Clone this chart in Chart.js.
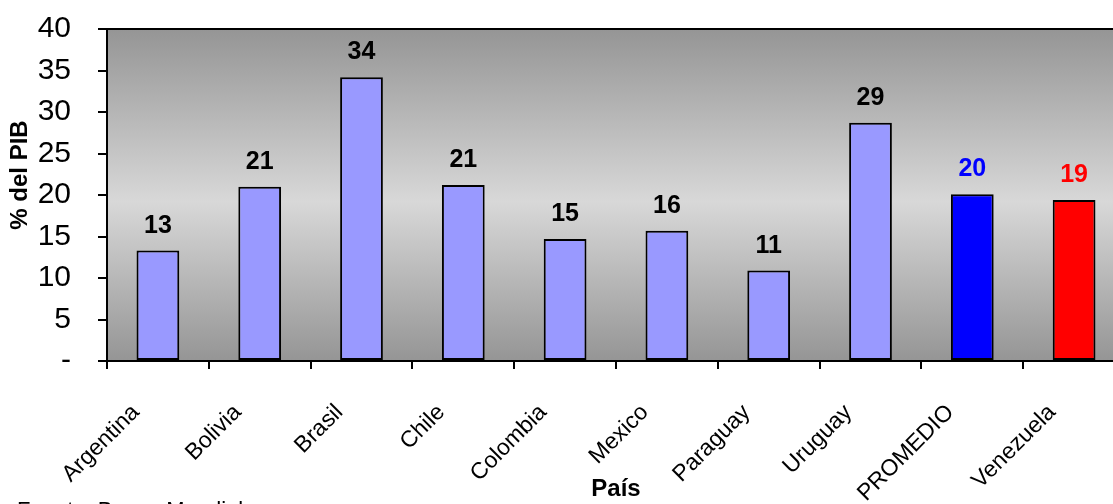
<!DOCTYPE html>
<html>
<head>
<meta charset="utf-8">
<script src="https://cdn.jsdelivr.net/npm/chart.js@4/dist/chart.umd.min.js"></script>
<style>
  html, body { margin: 0; padding: 0; background: #fff; overflow: hidden; }
  #wrap { width: 1126px; height: 504px; }
</style>
</head>
<body>
<div id="wrap"><canvas id="pib" width="1126" height="504"></canvas></div>
<script>
// paises y % del PIB
var paises = ["Argentina", "Bolivia", "Brasil", "Chile", "Colombia", "Mexico", "Paraguay", "Uruguay", "PROMEDIO", "Venezuela"];
var valores = [13.3, 21.0, 34.2, 21.2, 14.7, 15.7, 10.9, 28.7, 20.1, 19.4];
var coloresBarra = ["#9999ff", "#9999ff", "#9999ff", "#9999ff", "#9999ff", "#9999ff", "#9999ff", "#9999ff", "#0000ff", "#ff0000"];
var coloresEtiqueta = ["#000", "#000", "#000", "#000", "#000", "#000", "#000", "#000", "#0000ff", "#ff0000"];
var fuente = "Fuente: Banco Mundial";

var FAMILIA = "'Liberation Sans', Arial, sans-serif";

// fondo degradado del area de trazado + borde superior
var fondoPlot = {
  id: "fondoPlot",
  beforeDraw: function (chart) {
    var a = chart.chartArea, c = chart.ctx;
    var g = c.createLinearGradient(0, a.top, 0, a.bottom);
    g.addColorStop(0, "#959595");
    g.addColorStop(0.52, "#d8d8d8");
    g.addColorStop(1, "#959595");
    c.save();
    c.fillStyle = g;
    c.fillRect(a.left, a.top, a.right - a.left, a.bottom - a.top);
    c.restore();
  },
  afterDraw: function (chart) {
    var a = chart.chartArea, c = chart.ctx;
    c.save();
    c.strokeStyle = "#000";
    c.lineWidth = 2;
    c.beginPath();
    c.moveTo(a.left, a.top);
    c.lineTo(a.right, a.top);
    c.stroke();
    // nota de fuente al pie
    c.fillStyle = "#000";
    c.font = "22px " + FAMILIA;
    c.textAlign = "left";
    c.textBaseline = "alphabetic";
    c.fillText(fuente, 17, 517);
    c.restore();
  }
};

// valores encima de cada barra
var etiquetas = {
  id: "etiquetas",
  afterDatasetsDraw: function (chart) {
    var c = chart.ctx;
    var meta = chart.getDatasetMeta(0);
    c.save();
    c.font = "bold 25px " + FAMILIA;
    c.textAlign = "center";
    c.textBaseline = "alphabetic";
    meta.data.forEach(function (bar, i) {
      c.fillStyle = coloresEtiqueta[i];
      c.fillText(String(Math.round(valores[i])), bar.x, bar.y - 18);
    });
    c.restore();
  }
};

new Chart(document.getElementById("pib"), {
  type: "bar",
  data: {
    labels: paises,
    datasets: [{
      data: valores,
      backgroundColor: coloresBarra,
      borderColor: "#000",
      borderWidth: 2,
      borderSkipped: false,
      barPercentage: 0.42,
      categoryPercentage: 1.0
    }]
  },
  options: {
    responsive: false,
    devicePixelRatio: 1,
    animation: false,
    layout: { padding: { top: 29, right: 1, left: 0, bottom: 0 } },
    plugins: {
      legend: { display: false },
      tooltip: { enabled: false }
    },
    scales: {
      x: {
        offset: true,
        border: { display: true, color: "#000", width: 2 },
        grid: { offset: true, drawOnChartArea: false, drawTicks: true, tickLength: 8, color: "#000", lineWidth: 2 },
        ticks: {
          autoSkip: false,
          minRotation: 45,
          maxRotation: 45,
          padding: 30,
          labelOffset: -22,
          color: "#000",
          font: { family: FAMILIA, size: 23 }
        },
        title: {
          display: true,
          text: "País",
          color: "#000",
          font: { family: FAMILIA, size: 24, weight: "bold" },
          padding: { top: 0, bottom: 0 }
        },
        afterFit: function (s) {
          s.height = 143;
          s.paddingLeft = 0;
          s.paddingRight = 0;
        }
      },
      y: {
        min: 0,
        max: 40,
        border: { display: true, color: "#000", width: 2 },
        grid: { drawOnChartArea: false, drawTicks: true, tickLength: 9, color: "#000", lineWidth: 2 },
        ticks: {
          stepSize: 5,
          autoSkip: false,
          padding: 27,
          color: "#000",
          font: { family: FAMILIA, size: 30 },
          callback: function (v) { return v === 0 ? "-" : v; }
        },
        title: {
          display: true,
          // espacios al inicio: sube el titulo un poco respecto al centro del eje
          text: "      % del PIB",
          color: "#000",
          font: { family: FAMILIA, size: 24, weight: "bold" },
          padding: { top: 6, bottom: 0 }
        },
        afterFit: function (s) {
          s.width = 107;
          s.paddingTop = 0;
          s.paddingBottom = 0;
        }
      }
    }
  },
  plugins: [fondoPlot, etiquetas]
});
</script>
</body>
</html>
